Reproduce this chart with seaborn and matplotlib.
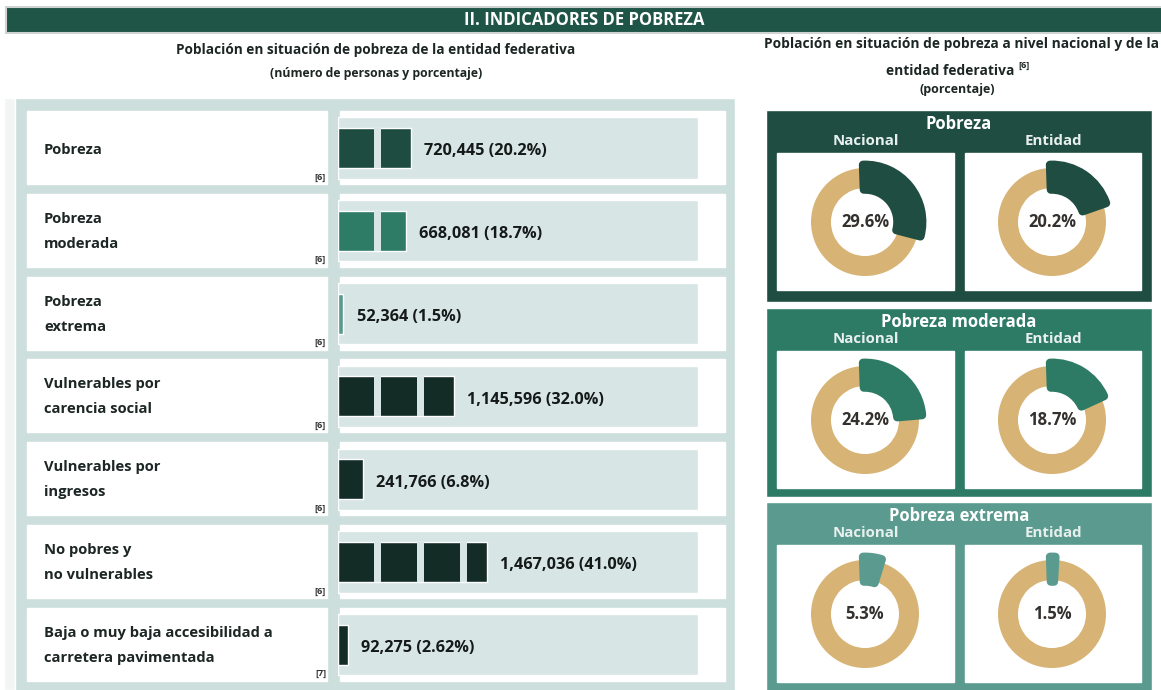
import matplotlib.pyplot as plt
import matplotlib.patches as mpatches
import seaborn as sns
import pandas as pd

# data
categories = ['Pobreza', 'Pobreza\nmoderada', 'Pobreza\nextrema', 'Vulnerables por\ncarencia social',
              'Vulnerables por\ningresos', 'No pobres y\nno vulnerables',
              'Baja o muy baja accesibilidad a\ncarretera pavimentada']
personas = [720445, 668081, 52364, 1145596, 241766, 1467036, 92275]
porcentaje = [20.2, 18.7, 1.5, 32.0, 6.8, 41.0, 2.62]
pct_labels = ['20.2%', '18.7%', '1.5%', '32.0%', '6.8%', '41.0%', '2.62%']
fuentes = ['[6]', '[6]', '[6]', '[6]', '[6]', '[6]', '[7]']
bar_colors = ['#1e4c40', '#2e7b66', '#5a9a8e', '#132d26', '#132d26', '#132d26', '#132d26']

donut_titles = ['Pobreza', 'Pobreza moderada', 'Pobreza extrema']
nacional = [29.6, 24.2, 5.3]
entidad = [20.2, 18.7, 1.5]
box_colors = ['#1f4d41', '#2d7a65', '#5b9b8f']

W, H = 1161, 690
PANEL = '#cddfdc'
TRACK = '#d7e6e5'
GOLD = '#d7b475'
TXT = '#1c2624'

sns.set_style('white')
plt.rcParams['font.family'] = ['Open Sans', 'DejaVu Sans']
plt.rcParams['font.weight'] = 'bold'

fig = plt.figure(figsize=(W / 100, H / 100), dpi=100)
bg = fig.add_axes([0, 0, 1, 1])
bg.set_xlim(0, W)
bg.set_ylim(H, 0)
bg.axis('off')


def rect(x0, y0, x1, y1, color, **kw):
    bg.add_patch(mpatches.Rectangle((x0, y0), x1 - x0, y1 - y0, facecolor=color, **kw))


# header
rect(6, 7, W + 2, 33, '#1f5546', edgecolor='#cfd3d2', linewidth=1.5)
bg.text(584, 20, 'II. INDICADORES DE POBREZA', color='white', fontsize=12,
        ha='center', va='center', fontweight='bold')

bg.text(376, 50, 'Población en situación de pobreza de la entidad federativa',
        fontsize=9.8, ha='center', va='center', color=TXT)
bg.text(376, 74, '(número de personas y porcentaje)', fontsize=8.8,
        ha='center', va='center', color=TXT)
bg.text(961, 44, 'Población en situación de pobreza a nivel nacional y de la',
        fontsize=9.9, ha='center', va='center', color=TXT)
bg.text(950, 71, 'entidad federativa', fontsize=9.9, ha='center', va='center', color=TXT)
bg.text(1018, 65, '[6]', fontsize=6.5, ha='left', va='center', color=TXT)
bg.text(957, 89, '(porcentaje)', fontsize=9, ha='center', va='center', color=TXT)

# left panel frame
rect(4, 98, 15, H, '#f3f4f4')
rect(15, 98, 735, H + 2, PANEL)
row0, pitch = 148, 82.8
for i, (cat, src) in enumerate(zip(categories, fuentes)):
    c = row0 + pitch * i
    rect(27, c - 37, 327, c + 36, 'white')
    rect(340, c - 37, 725, c + 36, 'white')
    bg.text(44, c + 2 if '\n' not in cat else c + 0.5, cat, fontsize=10.6, ha='left',
            va='center', color=TXT, linespacing=2.0)
    bg.text(326, c + 29, src, fontsize=6.5, ha='right', va='center', color='#333')

# bars
px_per_pct = 3.63
x0, x1 = 338, 698
axb = fig.add_axes([x0 / W, 0, (x1 - x0) / W, (H - 98) / H])
xmax = (x1 - x0) / px_per_pct
n = len(categories)
axb.barh(range(n), [xmax] * n, height=0.737, color=TRACK, zorder=0)
df = pd.DataFrame({'cat': categories, 'pct': porcentaje})
sns.barplot(data=df, x='pct', y='cat', hue='cat', palette=bar_colors, orient='h',
            width=0.483, saturation=1, legend=False, ax=axb, zorder=2)
block, gap = 11.85, 1.93
for i, v in enumerate(porcentaje):
    k = 1
    while k * block - gap < v:
        axb.add_patch(mpatches.Rectangle((k * block - gap, i - 0.2415), gap, 0.483,
                                         facecolor=TRACK, edgecolor='none', zorder=3))
        k += 1
    axb.text(v + 3.6, i + 0.04, f'{personas[i]:,} ({pct_labels[i]})', fontsize=11.7,
             ha='left', va='center', color='#151a19', fontweight='bold')
top = -(row0 - 98) / pitch
axb.set_ylim(top + (H - 98) / pitch, top)
axb.set_xlim(0, xmax)
axb.axis('off')
axb.patch.set_alpha(0)

# donut boxes
boxes = [(110, 302), (308, 497), (502, 700)]
for j, (ya, yb) in enumerate(boxes):
    col = box_colors[j]
    rect(766, ya, 1152, yb, col)
    bg.text(959, ya + 14, donut_titles[j], fontsize=12, color='white', ha='center', va='center')
    bg.text(866, ya + 31, 'Nacional', fontsize=10.8, color='#e8f0ee', ha='center', va='center')
    bg.text(1053, ya + 31, 'Entidad', fontsize=10.8, color='#e8f0ee', ha='center', va='center')
    rect(777, ya + 43, 954, min(ya + 180, H - 7), 'white')
    rect(965, ya + 43, 1141, min(ya + 180, H - 7), 'white')
    cy = ya + 112
    for cx, val in [(865, nacional[j]), (1052, entidad[j])]:
        S = 140
        ax = fig.add_axes([(cx - S / 2) / W, 1 - (cy + S / 2) / H, S / W, S / H])
        ax.pie([100], radius=1, colors=[GOLD], startangle=90,
               wedgeprops=dict(width=0.37, linewidth=0))
        wedges, _ = ax.pie([val, 100 - val], radius=1.06, colors=[col, 'white'],
                           startangle=92, counterclock=False,
                           wedgeprops=dict(width=0.46))
        wedges[0].set_edgecolor(col)
        wedges[0].set_linewidth(6)
        wedges[0].set_joinstyle('round')
        wedges[1].set_visible(False)
        R = (S / 2) / 54
        ax.set_xlim(-R, R)
        ax.set_ylim(-R, R)
        ax.set_aspect('equal')
        ax.text(0, 0, f'{val}%', fontsize=12, ha='center', va='center', color='#33302e',
                fontweight='bold')

fig.savefig('out.png', dpi=100)
